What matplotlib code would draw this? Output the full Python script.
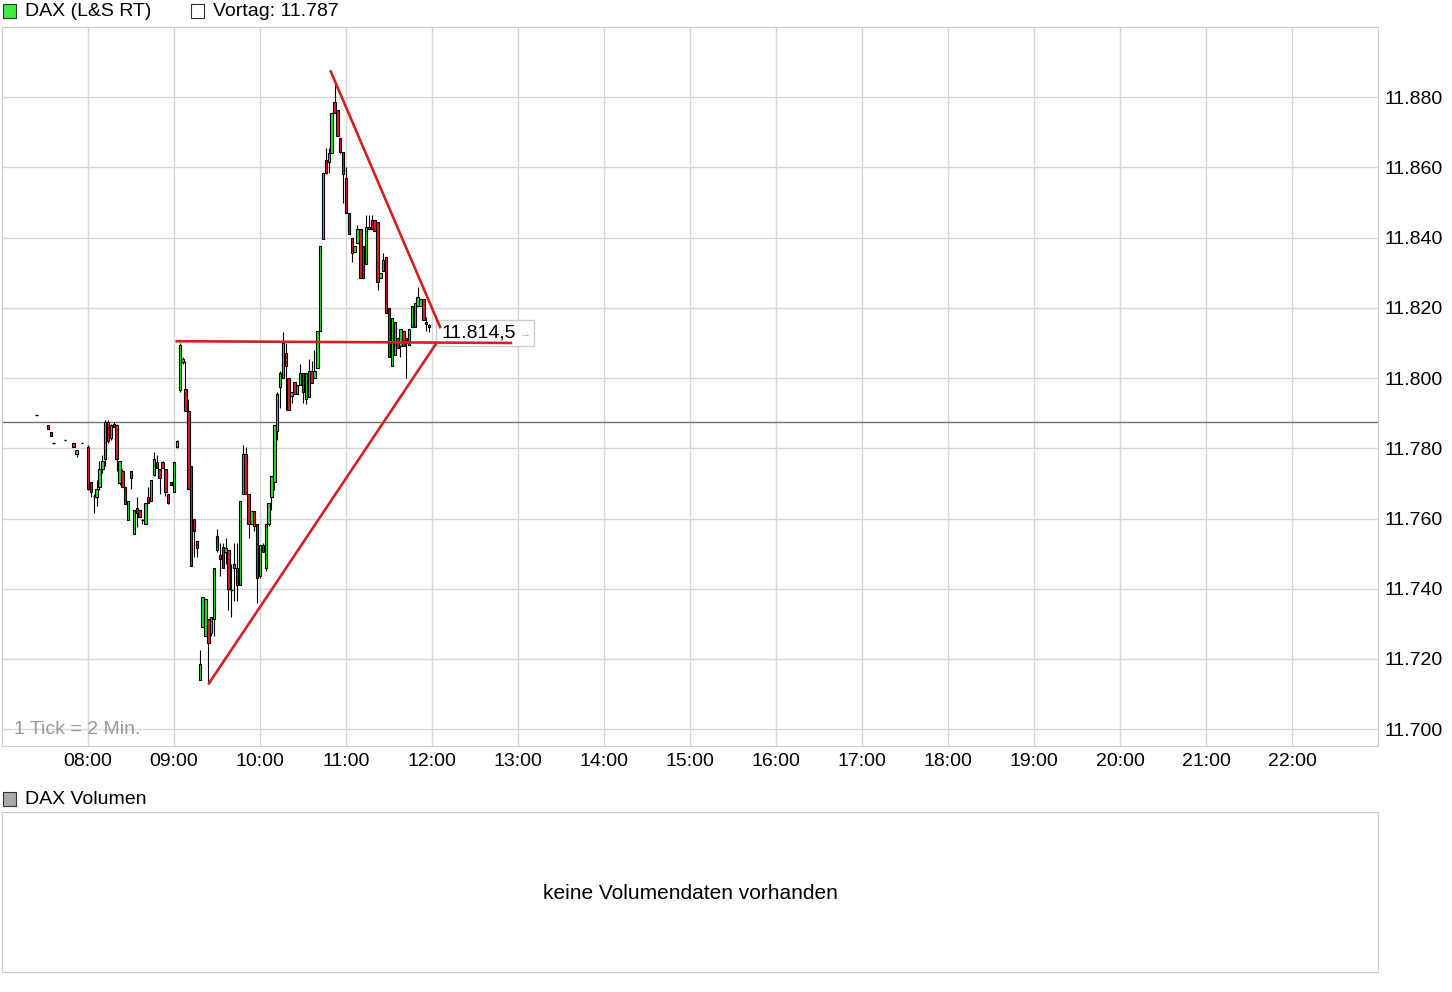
import matplotlib.pyplot as plt
from matplotlib.patches import Rectangle

plt.rcParams['font.family'] = ['Liberation Sans', 'DejaVu Sans']

# Vorbörse (einzelne Ticks)
pre_times = ['07:24', '07:32', '07:34', '07:36', '07:44', '07:50', '07:52', '07:56']
pre_open = [11789.5, 11786.5, 11784.5, 11781.5, 11782.5, 11781.5, 11778.5, 11781.5]
pre_high = [11789.5, 11786.5, 11784.5, 11781.5, 11782.5, 11781.5, 11779.5, 11781.5]
pre_low = [11789.5, 11785.5, 11783.5, 11781.5, 11782.5, 11780.5, 11777.5, 11781.5]
pre_close = [11789.5, 11785.5, 11783.5, 11781.5, 11782.5, 11780.5, 11779.5, 11781.5]

# 2-Minuten-Kerzen ab 08:00
opens = [11780.5, 11770.5, 11766.5, 11766, 11769, 11774, 11777, 11787.5, 11783, 11787,
         11786.5, 11770, 11773.5, 11769, 11759.5, 11773.5, 11755.5, 11763, 11762.5, 11759.5,
         11758.5, 11766, 11765, 11772.5, 11776, 11774, 11776, 11774, 11767, 11770.5,
         11767.5, 11780.5, 11796.5, 11804.5, 11797, 11790.5, 11775, 11760, 11753.5, 11714,
         11729, 11726.5, 11731.5, 11727.5, 11731.5, 11755, 11749.5, 11752, 11750.5, 11751,
         11739.5, 11746, 11746, 11741, 11767, 11778.5, 11767, 11758.5, 11762, 11758.5,
         11743.5, 11752.5, 11746, 11758.5, 11766, 11770.5, 11785, 11797.5, 11800, 11807,
         11800, 11795, 11799, 11795.5, 11798, 11801.5, 11794, 11794.5, 11802, 11800,
         11803, 11813.5, 11839.5, 11862, 11861.5, 11864, 11878.5, 11876.5, 11868.5, 11864.5,
         11857, 11847, 11840, 11836, 11838.5, 11842.5, 11837.5, 11832.5, 11842.5, 11845,
         11845, 11844.5, 11828.5, 11830.5, 11834.5, 11820, 11803.5, 11806.5, 11811.5, 11809,
         11813.5, 11811.5, 11809.5, 11814.5, 11814.5, 11820.5, 11820.5, 11822.5, 11816, 11815]
highs = [11781, 11770.5, 11767, 11771, 11776.5, 11778, 11788, 11788, 11787, 11787.5,
         11787, 11776.5, 11774, 11769, 11765, 11773.5, 11762.5, 11766, 11762.5, 11760,
         11764.5, 11769, 11771, 11779, 11778, 11774, 11776.5, 11774, 11767, 11770.5,
         11776, 11782.5, 11810, 11806, 11805, 11794, 11775, 11760, 11753.5, 11722.5,
         11737.5, 11737, 11731.5, 11732, 11746, 11757, 11753, 11753, 11754.5, 11751,
         11747, 11753, 11753, 11765, 11781, 11780.5, 11767, 11762, 11762, 11758.5,
         11752.5, 11753, 11758.5, 11764.5, 11772, 11786.5, 11796, 11802, 11813, 11810,
         11800, 11796, 11799, 11798, 11804, 11801.5, 11801.5, 11805.5, 11805, 11808,
         11813.5, 11837.5, 11858.5, 11865.5, 11865.5, 11875.5, 11885, 11876.5, 11868.5, 11864.5,
         11860, 11847, 11840, 11837.5, 11843.5, 11842.5, 11837.5, 11846.5, 11846.5, 11846.5,
         11845, 11844.5, 11830, 11835.5, 11834.5, 11820, 11817, 11816, 11811.5, 11814,
         11813.5, 11811.5, 11814, 11820.5, 11821.5, 11826, 11822.5, 11822.5, 11817.5, 11815.5]
lows = [11768, 11766, 11761.5, 11763.5, 11768, 11773, 11775, 11781.5, 11782.5, 11786,
        11773.5, 11769.5, 11769, 11764, 11759.5, 11768.5, 11755.5, 11757.5, 11760.5, 11758.5,
        11758.5, 11764.5, 11765, 11772, 11774.5, 11767, 11774.5, 11766.5, 11764, 11769.5,
        11767.5, 11780, 11796, 11804, 11790.5, 11768.5, 11746.5, 11749, 11749, 11714,
        11729, 11726.5, 11713, 11726.5, 11726.5, 11750.5, 11743.5, 11746, 11747, 11734,
        11732, 11736.5, 11736.5, 11741, 11767, 11767, 11754.5, 11758.5, 11756.5, 11736,
        11743, 11750.5, 11745, 11758, 11762.5, 11768, 11782.5, 11791.5, 11800, 11791,
        11791, 11793, 11795.5, 11795.5, 11798, 11793, 11792.5, 11794.5, 11798.5, 11800,
        11803, 11813.5, 11839.5, 11858, 11858.5, 11864, 11875.5, 11869, 11864, 11850,
        11847, 11841, 11833, 11836, 11838.5, 11828.5, 11828.5, 11832.5, 11842.5, 11842.5,
        11842, 11825, 11828.5, 11830.5, 11818.5, 11806, 11803.5, 11806.5, 11808.5, 11806,
        11809, 11800, 11809.5, 11814.5, 11814.5, 11820.5, 11820.5, 11816.5, 11813.5, 11813]
closes = [11768.5, 11767.5, 11766.5, 11768.5, 11774, 11776.5, 11787.5, 11782, 11786.5, 11786,
          11777, 11776.5, 11769, 11764, 11765, 11771.5, 11762.5, 11761.5, 11760.5, 11759.5,
          11764.5, 11764.5, 11771, 11777, 11774.5, 11771.5, 11774.5, 11767.5, 11764.5, 11769.5,
          11776, 11782, 11809.5, 11805.5, 11790.5, 11768.5, 11746.5, 11756.5, 11751.5, 11718.5,
          11737.5, 11737, 11724.5, 11732, 11746, 11751, 11748.5, 11746, 11751.5, 11740,
          11739.5, 11747, 11741, 11765, 11778.5, 11767, 11758.5, 11762, 11758, 11743,
          11752.5, 11750.5, 11758.5, 11764.5, 11772, 11786.5, 11795.5, 11801.5, 11810, 11803.5,
          11791, 11796, 11795.5, 11798, 11801.5, 11796, 11801.5, 11802, 11798.5, 11802,
          11813.5, 11837.5, 11858.5, 11858.5, 11864, 11875.5, 11875.5, 11869, 11864.5, 11858,
          11847, 11841, 11835.5, 11837.5, 11842.5, 11828.5, 11828.5, 11843, 11843, 11842.5,
          11842, 11827.5, 11830, 11833.5, 11818.5, 11806, 11817, 11816, 11808.5, 11814,
          11809, 11810, 11814, 11820.5, 11821.5, 11823, 11822.5, 11816.5, 11815.5, 11814.5]

vortag = 11787.4
last_price = 11814.5
hour_labels = ['08:00', '09:00', '10:00', '11:00', '12:00', '13:00', '14:00', '15:00',
               '16:00', '17:00', '18:00', '19:00', '20:00', '21:00', '22:00']
price_ticks = [11700, 11720, 11740, 11760, 11780, 11800, 11820, 11840, 11860, 11880]

# Trendlinien (Zeit, Kurs)
line_flat = [('09:01', 11810.5), ('12:56', 11810.0)]
line_down = [('10:49', 11887.7), ('12:06', 11814.2)]
line_up = [('09:24', 11712.8), ('12:03', 11809.9)]


def to_h(s):
    h, m = s.split(':')
    return int(h) + int(m) / 60


times = [to_h(t) for t in pre_times] + [8 + 2 * i / 60 for i in range(len(opens))]
o = pre_open + opens
hi = pre_high + highs
lo = pre_low + lows
c = pre_close + closes

GREEN = '#2ee02e'
RED = '#e01f1f'
GRID = '#d6d6d6'
FS = 14

fig = plt.figure(figsize=(14.52, 9.92), dpi=100)
W, H = 1452, 992
ax = fig.add_axes([2 / W, 246 / H, 1376 / W, 719 / H])

ax.set_xlim(7, 23)
ax.set_ylim(11695.2, 11900)
ax.set_xticks([8 + i for i in range(len(hour_labels))])
ax.set_xticklabels(hour_labels)
ax.set_yticks(price_ticks)
ax.set_yticklabels([f'{v:,.0f}'.replace(',', '.') for v in price_ticks])
ax.yaxis.tick_right()
ax.tick_params(length=0, labelsize=FS, colors='black')
ax.tick_params(axis='y', pad=5)
ax.tick_params(axis='x', pad=5)
ax.grid(True, color=GRID, lw=1)
ax.set_axisbelow(True)
for sp in ax.spines.values():
    sp.set_color('#cccccc')

ax.axhline(vortag, color='#707070', lw=1, zorder=2)

# Kerzen
w = 1.65 / 60
for t, op, h, l, cl in zip(times, o, hi, lo, c):
    ax.vlines(t, l, h, color='black', lw=0.8, zorder=3)
    if op == cl:
        ax.hlines(op, t - w / 2, t + w / 2, color='black', lw=1, zorder=4)
    else:
        col = GREEN if cl > op else RED
        ax.bar(t, cl - op, bottom=op, width=w, color=col, edgecolor='black',
               linewidth=0.8, zorder=4)

# Kursbox
bx0, bx1 = 12.047, 13.186
ax.add_patch(Rectangle((bx0, last_price - 5.5), bx1 - bx0, 7.5, facecolor='white',
                       edgecolor='#cccccc', lw=1, zorder=5))
ax.text(12.105, last_price - 1.6, '11.814,5', fontsize=FS, va='center', ha='left', zorder=6)
ax.text(13.08, last_price - 1.8, '→', fontsize=8, color='#aaaaaa', va='center', ha='center',
        zorder=6)

for ln in (line_flat, line_down, line_up):
    xs = [to_h(p[0]) for p in ln]
    ys = [p[1] for p in ln]
    ax.plot(xs, ys, color='#d42020', lw=1.9, zorder=7, solid_capstyle='butt')

fig.text(14 / W, 1 - 730 / H, '1 Tick = 2 Min.', fontsize=FS, color='#999999', va='center')

# Legende oben
fig.add_artist(Rectangle((3 / W, 1 - 18 / H), 13 / W, 14 / H, transform=fig.transFigure,
                         facecolor='#3cf03c', edgecolor='#333333', lw=0.8))
fig.text(25 / W, 1 - 12 / H, 'DAX (L&S RT)', fontsize=FS, va='center')
fig.add_artist(Rectangle((191 / W, 1 - 18 / H), 13 / W, 14 / H, transform=fig.transFigure,
                         facecolor='white', edgecolor='#333333', lw=0.8))
fig.text(213 / W, 1 - 12 / H, 'Vortag: 11.787', fontsize=FS, va='center')

# Volumen
fig.add_artist(Rectangle((3 / W, 1 - 806 / H), 13 / W, 14 / H, transform=fig.transFigure,
                         facecolor='#aaaaaa', edgecolor='#333333', lw=0.8))
fig.text(25 / W, 1 - 800 / H, 'DAX Volumen', fontsize=FS, va='center')

vax = fig.add_axes([2 / W, 20 / H, 1376 / W, 160 / H])
vax.set_xticks([])
vax.set_yticks([])
for sp in vax.spines.values():
    sp.set_color('#cccccc')
vax.text(0.5, 0.49, 'keine Volumendaten vorhanden', fontsize=15, ha='center', va='center',
         transform=vax.transAxes)

fig.savefig('out.png', dpi=100)
